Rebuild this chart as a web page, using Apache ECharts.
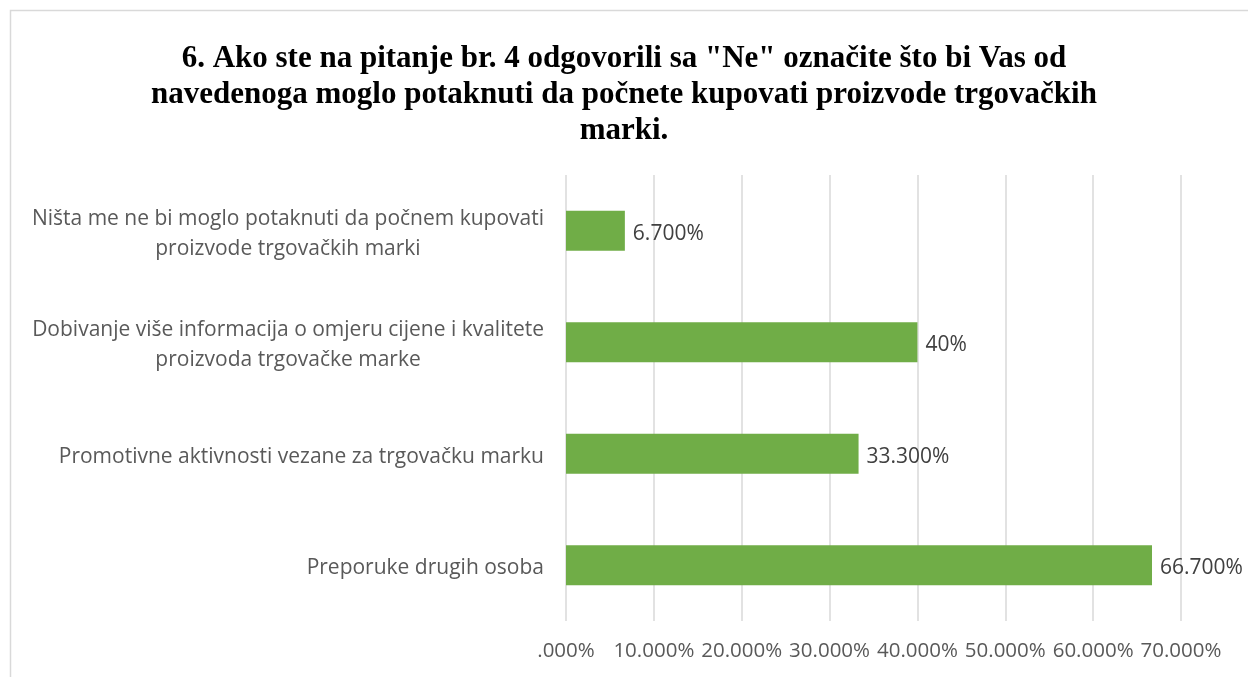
<!DOCTYPE html>
<html>
<head>
<meta charset="utf-8">
<script src="https://cdn.jsdelivr.net/npm/echarts@6/dist/echarts.min.js"></script>
<style>
  html, body { margin: 0; padding: 0; background: #fff; }
  #chart { width: 1248px; height: 677px; }
</style>
</head>
<body>
<div id="chart"></div>
<script>
// podaci s grafikona (odozdo prema gore, kao na y osi)
const categories = [
    'Preporuke drugih osoba',
    'Promotivne aktivnosti vezane za trgovačku marku',
    'Dobivanje više informacija o omjeru cijene i kvalitete\nproizvoda trgovačke marke',
    'Ništa me ne bi moglo potaknuti da počnem kupovati\nproizvode trgovačkih marki'
];
const values = [66.7, 33.3, 40, 6.7];
const valueLabels = ['66.700%', '33.300%', '40%', '6.700%'];
const tickLabels = ['.000%', '10.000%', '20.000%', '30.000%', '40.000%', '50.000%', '60.000%', '70.000%'];
const title = '6. Ako ste na pitanje br. 4 odgovorili sa "Ne" označite što bi Vas od\nnavedenoga moglo potaknuti da počnete kupovati proizvode trgovačkih\nmarki.';

const chart = echarts.init(document.getElementById('chart'));

chart.setOption({
    animation: false,
    title: {
        text: title,
        left: 'center',
        top: 36,
        textStyle: {
            fontFamily: 'Liberation Serif',
            fontWeight: 'bold',
            fontSize: 31,
            lineHeight: 36,
            color: '#000'
        }
    },
    graphic: [{
        // okvir grafikona
        type: 'rect',
        shape: { x: 10.5, y: 10.5, width: 1400, height: 800 },
        style: { fill: 'none', stroke: '#d9d9d9', lineWidth: 1.5 },
        silent: true
    }],
    grid: {
        left: 566,
        right: 67,
        top: 175,
        bottom: 56
    },
    xAxis: {
        type: 'value',
        min: 0,
        max: 70,
        interval: 10,
        axisLine: { show: false },
        axisTick: { show: false },
        splitLine: { lineStyle: { color: '#d9d9d9', width: 1.5 } },
        axisLabel: {
            margin: 20,
            fontFamily: 'Open Sans',
            fontSize: 20.5,
            color: '#595959',
            formatter: (v) => tickLabels[Math.round(v / 10)]
        }
    },
    yAxis: {
        type: 'category',
        data: categories,
        axisLine: { show: false },
        axisTick: { show: false },
        axisLabel: {
            margin: 22,
            fontFamily: 'Open Sans',
            fontSize: 21,
            color: '#595959',
            formatter: (v) => v.split('\n').map(l => '{c|' + l + '}').join('\n'),
            rich: {
                c: { align: 'center', fontFamily: 'Open Sans', fontSize: 21, color: '#595959', lineHeight: 30, padding: [6, 0, 0, 0] }
            }
        }
    },
    series: [{
        type: 'bar',
        data: values,
        barWidth: 40,
        itemStyle: { color: '#70ad47' },
        label: {
            show: true,
            position: 'right',
            distance: 8,
            offset: [0, 3],
            fontFamily: 'Open Sans',
            fontSize: 21,
            color: '#404040',
            formatter: (p) => valueLabels[p.dataIndex]
        }
    }]
});
</script>
</body>
</html>
